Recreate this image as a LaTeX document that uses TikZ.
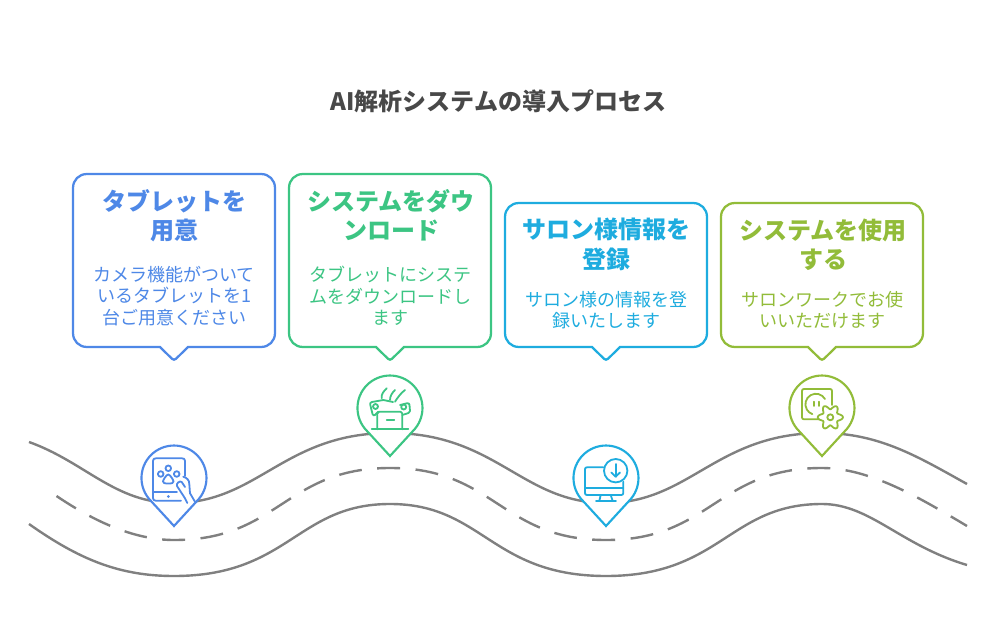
\documentclass[tikz,border=0pt]{standalone}
\usepackage{fontspec}
\setmainfont{Noto Sans CJK JP}
\definecolor{padblue}{RGB}{78,136,231}
\definecolor{dlgreen}{RGB}{60,197,131}
\definecolor{saloncyan}{RGB}{30,172,223}
\definecolor{uselime}{RGB}{146,188,57}
\definecolor{roadgray}{RGB}{128,128,128}
\definecolor{titlegray}{RGB}{72,72,72}
\tikzset{every picture/.style={line width=0.75pt}}
\tikzset{
  roadline/.style={draw=roadgray,line width=1.8pt},
  cardline/.style={line width=1.7pt,fill=white},
  pinline/.style={line width=1.6pt,fill=white},
  iconline/.style={line width=1.35pt,line cap=round,line join=round},
  titletext/.style={font=\bfseries\fontsize{18}{22}\selectfont,text=titlegray},
  headtext/.style={font=\bfseries\fontsize{18}{22}\selectfont,align=center},
  bodytext/.style={font=\fontsize{13.5}{16}\selectfont,align=center},
}

\begin{document}
\begin{tikzpicture}[x=0.75pt,y=0.75pt,yscale=-1,xscale=1]
	\useasboundingbox (0,0) rectangle (997,635);

	%Road edges
	\draw [roadline] (29,442) .. controls (85,462) and (115,503) .. (174,503) .. controls (258,503) and (284,433) .. (390,433) .. controls (496,433) and (522,503) .. (606,503) .. controls (690,503) and (716,433) .. (822,433) .. controls (880,433) and (920,458) .. (967,484) ;
	\draw [roadline] (29,524) .. controls (80,560) and (120,576) .. (174,576) .. controls (289,576) and (297,504) .. (390,504) .. controls (483,504) and (491,576) .. (606,576) .. controls (721,576) and (729,504) .. (822,504) .. controls (870,504) and (900,545) .. (967,565) ;
	%Road centre line
	\draw [roadline,dash pattern=on 17.25pt off 11.6pt] (56.5,496) .. controls (95,522) and (135,540) .. (174,540) .. controls (279,540) and (285,468) .. (390,468) .. controls (495,468) and (501,540) .. (606,540) .. controls (711,540) and (717,468) .. (822,468) .. controls (870,468) and (920,498) .. (967,526) ;

	%Shape: Callout
	\draw [cardline,draw=padblue] (87,174) -- (261,174) .. controls (269,174) and (275,180) .. (275,188) -- (275,333) .. controls (275,341) and (269,347) .. (261,347) -- (188,347) -- (176,358.8) .. controls (174.8,360) and (173.2,360) .. (172,358.8) -- (160,347) -- (87,347) .. controls (79,347) and (73,341) .. (73,333) -- (73,188) .. controls (73,180) and (79,174) .. (87,174) -- cycle ;
	%Shape: Callout
	\draw [cardline,draw=dlgreen] (303,174) -- (477,174) .. controls (485,174) and (491,180) .. (491,188) -- (491,333) .. controls (491,341) and (485,347) .. (477,347) -- (404,347) -- (392,358.8) .. controls (390.8,360) and (389.2,360) .. (388,358.8) -- (376,347) -- (303,347) .. controls (295,347) and (289,341) .. (289,333) -- (289,188) .. controls (289,180) and (295,174) .. (303,174) -- cycle ;
	%Shape: Callout
	\draw [cardline,draw=saloncyan] (519,203) -- (693,203) .. controls (701,203) and (707,209) .. (707,217) -- (707,333) .. controls (707,341) and (701,347) .. (693,347) -- (620,347) -- (608,358.8) .. controls (606.8,360) and (605.2,360) .. (604,358.8) -- (592,347) -- (519,347) .. controls (511,347) and (505,341) .. (505,333) -- (505,217) .. controls (505,209) and (511,203) .. (519,203) -- cycle ;
	%Shape: Callout
	\draw [cardline,draw=uselime] (735,203) -- (909,203) .. controls (917,203) and (923,209) .. (923,217) -- (923,333) .. controls (923,341) and (917,347) .. (909,347) -- (836,347) -- (824,358.8) .. controls (822.8,360) and (821.2,360) .. (820,358.8) -- (808,347) -- (735,347) .. controls (727,347) and (721,341) .. (721,333) -- (721,217) .. controls (721,209) and (727,203) .. (735,203) -- cycle ;

	%Shape: Pin
	\draw [pinline,draw=padblue] (174,526) -- (151,501) arc [start angle=135,end angle=405,radius=32.5] -- cycle ;
	\draw [pinline,draw=dlgreen] (390,456) -- (367,431) arc [start angle=135,end angle=405,radius=32.5] -- cycle ;
	\draw [pinline,draw=saloncyan] (606,526) -- (583,501) arc [start angle=135,end angle=405,radius=32.5] -- cycle ;
	\draw [pinline,draw=uselime] (822,456) -- (799,431) arc [start angle=135,end angle=405,radius=32.5] -- cycle ;

	%Icon: tablet with paw
	\begin{scope}[iconline,draw=padblue]
	\draw (185,476) -- (185,461) .. controls (185,459) and (184,458.3) .. (182,458.3) -- (156,458.3) .. controls (154,458.3) and (153,459) .. (153,461) -- (153,498) .. controls (153,500) and (154,500.7) .. (156,500.7) -- (181,500.7) ;
	\draw (153,491.7) -- (177,491.7) ;
	\fill [padblue] (168.3,496.5) circle (1.5) ;
	\draw (160.7,474) circle (2.8) ;
	\draw (168.3,468.3) circle (2.8) ;
	\draw (176.7,474) circle (2.8) ;
	\draw (168.3,474.5) .. controls (170,474.5) and (173.5,480) .. (173.5,481.5) .. controls (173.5,483) and (172,483.5) .. (168.3,483.5) .. controls (164.5,483.5) and (163,483) .. (163,481.5) .. controls (163,480) and (166.5,474.5) .. (168.3,474.5) -- cycle ;
	\draw (183.3,476.7) .. controls (187,478) and (189.3,480) .. (189.3,484) -- (190,493.3) -- (195,501.7) ;
	\draw (185,487) -- (181.7,482) .. controls (180,480.5) and (176,483) .. (177,486) -- (185,498.3) -- (187.3,503) ;
	\end{scope}

	%Icon: laptop and tablet in hands
	\begin{scope}[iconline,draw=dlgreen]
	\draw (377.3,429.3) -- (377.3,413.5) .. controls (377.3,412.3) and (378,411.7) .. (379,411.7) -- (400.5,411.7) .. controls (401.7,411.7) and (402.3,412.3) .. (402.3,413.5) -- (402.3,429.3) ;
	\draw (371.7,429.3) -- (408.3,429.3) ;
	\draw (386.7,420) -- (394.3,420) ;
	\draw (383.3,400) -- (372,402) .. controls (370.5,402.3) and (370,403) .. (370.2,404.5) -- (372.5,414) .. controls (373,415.5) and (374,415.7) .. (375,415) -- (378.3,411.7) ;
	\draw (375.5,406.5) circle (2.5) ;
	\draw (400,405) -- (407,403.3) .. controls (408.5,403) and (409.3,403.5) .. (409.5,405) -- (410,411) .. controls (410,412) and (409.5,412.7) .. (408.5,413) -- (402.3,415) ;
	\draw (403.7,407) circle (2.5) ;
	\draw (383.3,400) -- (393,402) ;
	\draw (381.7,398.3) .. controls (381,394) and (384,391) .. (386.7,388.3) ;
	\draw (390,400) .. controls (390,396) and (392,393) .. (395,390) ;
	\draw (395,401.7) .. controls (398,397) and (401,393) .. (405,390) ;
	\end{scope}

	%Icon: monitor with download
	\begin{scope}[iconline,draw=saloncyan]
	\draw (603.3,467.3) -- (587,467.3) .. controls (585.7,467.3) and (585,468) .. (585,469.3) -- (585,493) .. controls (585,494.3) and (585.7,495) .. (587,495) -- (621.3,495) .. controls (622.6,495) and (623.3,494.3) .. (623.3,493) -- (623.3,481.7) ;
	\draw (585,488.3) -- (623.3,488.3) ;
	\draw (600.7,495) -- (599.3,501) ;
	\draw (610.7,495) -- (612.7,501) ;
	\draw (596,501.3) -- (616,501.3) ;
	\draw (615.7,470.7) circle (11.7) ;
	\draw (615.7,464) -- (615.7,476.7) ;
	\draw (611.3,472.5) -- (615.7,476.7) -- (620,472.5) ;
	\end{scope}

	%Icon: socket with gear
	\begin{scope}[iconline,draw=uselime]
	\draw (832,405) -- (832,391) .. controls (832,389.7) and (831.3,389) .. (830,389) -- (804,389) .. controls (802.7,389) and (802,389.7) .. (802,391) -- (802,417.3) .. controls (802,418.6) and (802.7,419.3) .. (804,419.3) -- (818.7,419.3) ;
	\draw (825,399) arc [start angle=-30,end angle=-250,radius=10.5] ;
	\draw (813.7,401.7) -- (813.7,406) ;
	\draw (819.3,401.7) -- (819.3,406) ;
	\draw plot [smooth cycle,domain=0:355,samples=72] ({830.3+(10.3+2.3*cos(6*\x))*cos(\x)},{417.3+(10.3+2.3*cos(6*\x))*sin(\x)}) ;
	\draw (830.3,417.3) circle (3) ;
	\end{scope}

	% Text Node
	\node [titletext] (titlelabel) at (498.5,101.5) {AI解析システムの導入プロセス};
	% Text Node
	\node [headtext,text=padblue] (padhead) at (174.5,215.5) {タブレットを\\用意};
	\node [bodytext,text=padblue] (padbody) at (174,296) {カメラ機能がついて\\いるタブレットを1\\台ご用意ください};
	% Text Node
	\node [headtext,text=dlgreen] (dlhead) at (391,215.5) {システムをダウ\\ンロード};
	\node [bodytext,text=dlgreen] (dlbody) at (390,296) {タブレットにシステ\\ムをダウンロードし\\ます};
	% Text Node
	\node [headtext,text=saloncyan] (salonhead) at (606,244.5) {サロン様情報を\\登録};
	\node [bodytext,text=saloncyan] (salonbody) at (606,310) {サロン様の情報を登\\録いたします};
	% Text Node
	\node [headtext,text=uselime] (usehead) at (823,244.5) {システムを使用\\する};
	\node [bodytext,text=uselime] (usebody) at (822,310) {サロンワークでお使\\いいただけます};

\end{tikzpicture}
\end{document}
